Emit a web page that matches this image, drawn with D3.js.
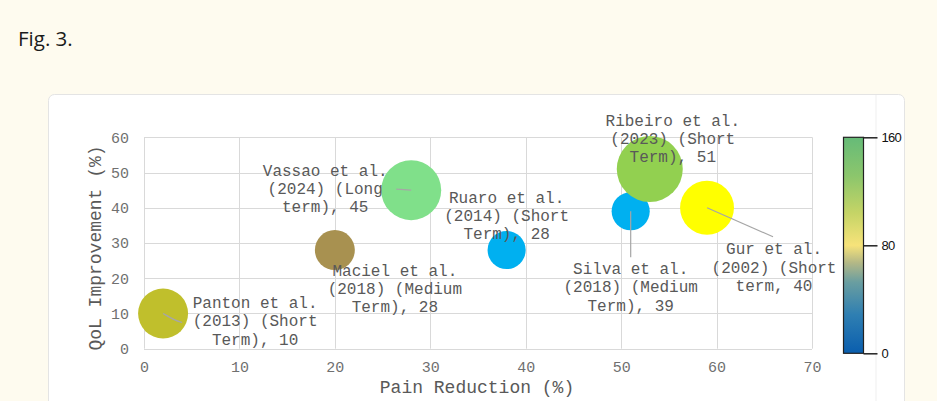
<!DOCTYPE html>
<html>
<head>
<meta charset="utf-8">
<script src="https://cdn.jsdelivr.net/npm/d3@7"></script>
<style>
  html, body { margin: 0; padding: 0; background: #fefbef; }
  svg { display: block; }
</style>
</head>
<body>
<script>
// studies shown as bubbles
var studies = ['Panton', 'Maciel', 'Vassao', 'Ruaro', 'Silva', 'Ribeiro', 'Gur'];
var painReduction = [2, 20, 28, 38, 51, 53, 59];
var qolImprovement = [10, 28, 45, 28, 39, 51, 40];
// bubble size (estimated sample size)
var sampleSize = [86, 55, 124, 50, 50, 150, 100];
var labelLines = [
  ['Panton et al.', '(2013) (Short', 'Term), 10'],
  ['Maciel et al.', '(2018) (Medium', 'Term), 28'],
  ['Vassao et al.', '(2024) (Long', 'term), 45'],
  ['Ruaro et al.', '(2014) (Short', 'Term), 28'],
  ['Silva et al.', '(2018) (Medium', 'Term), 39'],
  ['Ribeiro et al.', '(2023) (Short', 'Term), 51'],
  ['Gur et al.', '(2002) (Short', 'term, 40']
];
var xTicks = [0, 10, 20, 30, 40, 50, 60, 70];
var yTicks = [0, 10, 20, 30, 40, 50, 60];
var colorTicks = [0, 80, 160];

// styling / layout (not data)
var bubbleColors = ['#c0bf2c', '#a89150', '#80e08a', '#00b0f0', '#00b0f0', '#92d050', '#ffff00'];
// label block offset from bubble centre, and whether a leader line is drawn
var labelOffset = [[92, 9], [60, 40], [-86, 0], [0, -33], [0, 77], [23, -29], [67, 61]];
var leader = [
  [[0, 0], [12, 7], [19, 9]],
  null,
  [[0, 0], [-15, -1]],
  null,
  [[0, 0], [0, 46]],
  null,
  [[0, 0], [66, 29]]
];

var W = 937, H = 401;
var svg = d3.select('body').append('svg').attr('width', W).attr('height', H);

svg.append('text')
  .attr('x', 18).attr('y', 46)
  .attr('font-family', '"Open Sans", "Noto Sans", sans-serif')
  .attr('font-size', 20.5)
  .attr('fill', '#1b1b1b')
  .text('Fig. 3.');

// card
svg.append('rect')
  .attr('x', 48.5).attr('y', 94.5).attr('width', 856).attr('height', 330)
  .attr('rx', 6)
  .attr('fill', '#ffffff').attr('stroke', '#e4e4e4');
svg.append('line')
  .attr('x1', 876).attr('x2', 876).attr('y1', 95).attr('y2', 401)
  .attr('stroke', '#efefef');

var x = d3.scaleLinear().domain([0, 70]).range([144, 812]);
var y = d3.scaleLinear().domain([0, 60]).range([348.7, 137.3]);
var r = d3.scaleSqrt().domain([0, 150]).range([0, 33]);

var mono = '"Liberation Mono", "Courier New", monospace';

// grid
var grid = svg.append('g').attr('stroke', '#d9d9d9').attr('stroke-width', 1);
grid.selectAll('.gx').data(xTicks).enter().append('line')
  .attr('x1', function(d) { return Math.round(x(d)) + 0.5; })
  .attr('x2', function(d) { return Math.round(x(d)) + 0.5; })
  .attr('y1', y(0)).attr('y2', y(60));
grid.selectAll('.gy').data(yTicks).enter().append('line')
  .attr('y1', function(d) { return Math.round(y(d)) + 0.5; })
  .attr('y2', function(d) { return Math.round(y(d)) + 0.5; })
  .attr('x1', x(0)).attr('x2', x(70));

// axes with d3, then restyle
var xAxis = svg.append('g')
  .attr('transform', 'translate(0,' + y(0) + ')')
  .call(d3.axisBottom(x).tickValues(xTicks).tickSize(0).tickPadding(13));
var yAxis = svg.append('g')
  .attr('transform', 'translate(' + x(0) + ',0)')
  .call(d3.axisLeft(y).tickValues(yTicks).tickSize(0).tickPadding(15));
[xAxis, yAxis].forEach(function(a) {
  a.select('.domain').remove();
  a.selectAll('text')
    .attr('font-family', mono)
    .attr('font-size', 15)
    .attr('fill', '#707070');
});

svg.append('text')
  .attr('x', 477).attr('y', 388)
  .attr('text-anchor', 'middle').attr('dominant-baseline', 'central')
  .attr('font-family', mono).attr('font-size', 18).attr('fill', '#595959')
  .text('Pain Reduction (%)');
svg.append('text')
  .attr('transform', 'translate(96,248) rotate(-90)')
  .attr('text-anchor', 'middle').attr('dominant-baseline', 'central')
  .attr('font-family', mono).attr('font-size', 18).attr('fill', '#595959')
  .text('QoL Improvement (%)');

// bubbles
var idx = d3.range(studies.length);
svg.append('g').selectAll('circle').data(idx).enter().append('circle')
  .attr('cx', function(i) { return x(painReduction[i]); })
  .attr('cy', function(i) { return y(qolImprovement[i]); })
  .attr('r', function(i) { return r(sampleSize[i]); })
  .attr('fill', function(i) { return bubbleColors[i]; });

// leader lines
var line = d3.line().curve(d3.curveBasis);
svg.append('g').selectAll('path').data(idx.filter(function(i) { return leader[i]; })).enter()
  .append('path')
  .attr('d', function(i) {
    var cx = x(painReduction[i]), cy = y(qolImprovement[i]);
    return line(leader[i].map(function(p) { return [cx + p[0], cy + p[1]]; }));
  })
  .attr('fill', 'none').attr('stroke', '#a6a6a6').attr('stroke-width', 1.2);

// data labels
var labels = svg.append('g').selectAll('text').data(idx).enter().append('text')
  .attr('font-family', mono).attr('font-size', 16).attr('fill', '#595959')
  .attr('text-anchor', 'middle')
  .attr('transform', function(i) {
    return 'translate(' + (x(painReduction[i]) + labelOffset[i][0]) + ',' +
      (y(qolImprovement[i]) + labelOffset[i][1]) + ')';
  });
labels.selectAll('tspan').data(function(i) { return labelLines[i]; }).enter().append('tspan')
  .attr('x', 0)
  .attr('y', function(d, j) { return (j - 1) * 18.3; })
  .attr('dominant-baseline', 'central')
  .text(function(d) { return d; });

// colour bar
var cScale = d3.scaleLinear().domain([0, 160]).range([353.3, 137.3]);
var defs = svg.append('defs');
var grad = defs.append('linearGradient').attr('id', 'cbar')
  .attr('x1', 0).attr('x2', 0).attr('y1', 1).attr('y2', 0);
var stops = [[0, '#0a5eae'], [0.18, '#2f7fb2'], [0.33, '#6a9ea0'], [0.42, '#b4b886'], [0.5, '#f7e37a'],
             [0.65, '#c5d466'], [0.82, '#8cc66c'], [1, '#66bb78']];
grad.selectAll('stop').data(stops).enter().append('stop')
  .attr('offset', function(d) { return d[0]; })
  .attr('stop-color', function(d) { return d[1]; });

svg.append('rect')
  .attr('x', 843.5).attr('y', cScale(160)).attr('width', 20)
  .attr('height', cScale(0) - cScale(160))
  .attr('fill', 'url(#cbar)').attr('stroke', '#222').attr('stroke-width', 1.2);
var cAxis = svg.append('g')
  .attr('transform', 'translate(863.5,0)')
  .call(d3.axisRight(cScale).tickValues(colorTicks).tickSize(14).tickPadding(4));
cAxis.select('.domain').remove();
cAxis.selectAll('line').attr('stroke', '#222').attr('stroke-width', 1.5);
cAxis.selectAll('text')
  .attr('font-family', '"Liberation Sans", Arial, sans-serif')
  .attr('font-size', 13).attr('letter-spacing', -0.7).attr('fill', '#111');
</script>
</body>
</html>
